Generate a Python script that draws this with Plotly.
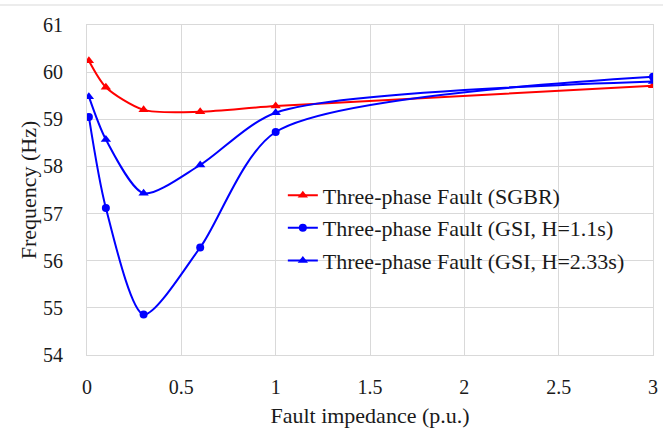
import plotly.graph_objects as go

# Fault impedance (p.u.)
impedance = [0.01, 0.1, 0.3, 0.6, 1.0, 3.0]

# Frequency nadir (Hz)
freq_sgbr = [60.24, 59.68, 59.20, 59.16, 59.28, 59.71]
freq_gsi_h11 = [59.05, 57.12, 54.86, 56.28, 58.73, 59.90]
freq_gsi_h233 = [59.48, 58.57, 57.43, 58.03, 59.14, 59.80]

names = [
    "Three-phase Fault (SGBR)",
    "Three-phase Fault (GSI, H=1.1s)",
    "Three-phase Fault (GSI, H=2.33s)",
]

x_ticks = [0, 0.5, 1, 1.5, 2, 2.5, 3]
x_tick_text = ["0", "0.5", "1", "1.5", "2", "2.5", "3"]
y_ticks = [54, 55, 56, 57, 58, 59, 60, 61]

FONT = "Liberation Serif, Times New Roman, serif"
TEXT = "#1a1a1a"
GRID = "#d9d9d9"

fig = go.Figure()

series = [
    (freq_sgbr, names[0], "#ff0000", "triangle-up", 9),
    (freq_gsi_h11, names[1], "#0000ff", "circle", 8),
    (freq_gsi_h233, names[2], "#0000ff", "triangle-up", 9),
]
for i, (ys, name, color, symbol, msize) in enumerate(series):
    fig.add_trace(go.Scatter(
        x=impedance, y=ys, name=name, mode="lines+markers",
        legendgroup=f"g{i}",
        line=dict(color=color, width=2, shape="spline", smoothing=0.75),
        marker=dict(color=color, symbol=symbol, size=msize),
    ))

fig.update_layout(
    width=663, height=429,
    margin=dict(l=87, r=10, t=25, b=74, autoexpand=False),
    paper_bgcolor="white", plot_bgcolor="white",
    font=dict(family=FONT, size=20, color=TEXT),
    showlegend=True,
    legend=dict(
        x=0.346, y=0.385, xanchor="left", yanchor="middle",
        bgcolor="rgba(0,0,0,0)", font=dict(family=FONT, size=22, color=TEXT),
        tracegroupgap=1, itemwidth=30,
    ),
    xaxis=dict(
        range=[0, 3], tickvals=x_ticks, ticktext=x_tick_text,
        tickfont=dict(family=FONT, size=20, color=TEXT),
        showgrid=True, gridcolor=GRID, gridwidth=1,
        showline=True, linecolor=GRID, linewidth=1, mirror=True,
        zeroline=False, ticks="", ticklabelstandoff=14, automargin=False,
        title=dict(text="Fault impedance (p.u.)", standoff=10,
                   font=dict(family=FONT, size=22, color=TEXT)),
    ),
    yaxis=dict(
        range=[54, 61], tickvals=y_ticks,
        tickfont=dict(family=FONT, size=20, color=TEXT),
        showgrid=True, gridcolor=GRID, gridwidth=1,
        showline=True, linecolor=GRID, linewidth=1, mirror=True,
        zeroline=False, ticks="", ticklabelstandoff=19, automargin=False,
        title=dict(text="Frequency (Hz)", standoff=0,
                   font=dict(family=FONT, size=22, color=TEXT)),
    ),
    shapes=[dict(
        type="line", xref="paper", yref="paper",
        x0=-0.16, x1=1.02, y0=1.0606, y1=1.0606,
        line=dict(color=GRID, width=1),
    )],
)

fig.write_html("out.html")
